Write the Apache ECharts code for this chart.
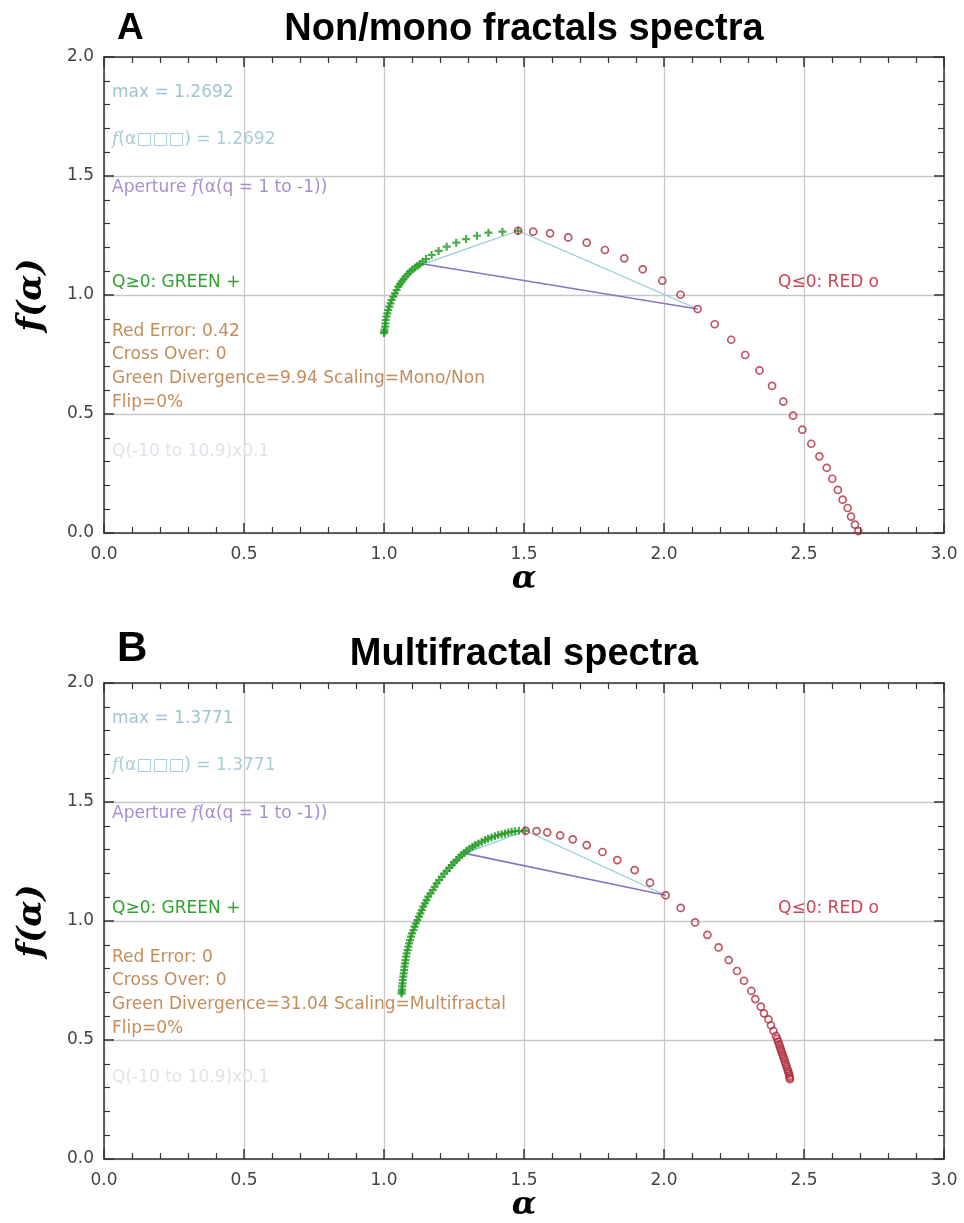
<!DOCTYPE html>
<html>
<head>
<meta charset="utf-8">
<script src="https://cdn.jsdelivr.net/npm/echarts@6/dist/echarts.min.js"></script>
<style>
  html, body { margin: 0; padding: 0; background: #fff; }
  #chart { width: 964px; height: 1223px; }
</style>
</head>
<body>
<div id="chart"></div>
<script>
//****************************** Data *************************************//

// panel A : q >= 0 (green +), from q = 0 (top) down to q = 10.9
var greenA = [
  [1.479, 1.270], [1.423, 1.266], [1.373, 1.262], [1.332, 1.249], [1.293, 1.235],
  [1.258, 1.220], [1.224, 1.203], [1.195, 1.185], [1.170, 1.168], [1.150, 1.151],
  [1.138, 1.140], [1.129, 1.130], [1.120, 1.123], [1.111, 1.116], [1.102, 1.107],
  [1.093, 1.098], [1.085, 1.088], [1.077, 1.077], [1.070, 1.067], [1.063, 1.056],
  [1.057, 1.046], [1.051, 1.035], [1.045, 1.021], [1.039, 1.007], [1.033, 0.993],
  [1.027, 0.979], [1.023, 0.965], [1.019, 0.951], [1.015, 0.937], [1.012, 0.923],
  [1.009, 0.909], [1.006, 0.895], [1.005, 0.881], [1.004, 0.867], [1.002, 0.855],
  [1.001, 0.846], [1.000, 0.840]
];

// panel A : q <= 0 (red o), from q = 0 down to q = -10
var redA = [
  [1.479, 1.270], [1.533, 1.266], [1.593, 1.259], [1.658, 1.242], [1.724, 1.220],
  [1.789, 1.189], [1.858, 1.154], [1.924, 1.108], [1.994, 1.060], [2.059, 1.001],
  [2.120, 0.941], [2.181, 0.877], [2.240, 0.812], [2.290, 0.748], [2.341, 0.683],
  [2.386, 0.618], [2.426, 0.552], [2.461, 0.493], [2.494, 0.434], [2.526, 0.375],
  [2.555, 0.322], [2.581, 0.274], [2.601, 0.228], [2.621, 0.181], [2.638, 0.140],
  [2.656, 0.105], [2.668, 0.069], [2.682, 0.035], [2.694, 0.008]
];

// panel A : max link (q=1 -> max -> q=-1) and aperture
var maxLinkA = [[1.140, 1.130], [1.479, 1.270], [2.120, 0.941]];
var apertureA = [[1.140, 1.130], [2.120, 0.941]];

// panel B : q >= 0 (green +)
var greenB = [
  [1.503, 1.380], [1.482, 1.379], [1.468, 1.377], [1.456, 1.375], [1.444, 1.372],
  [1.432, 1.368], [1.420, 1.365], [1.408, 1.361], [1.396, 1.356], [1.384, 1.351],
  [1.372, 1.346], [1.361, 1.340], [1.349, 1.333], [1.337, 1.326], [1.326, 1.319],
  [1.316, 1.312], [1.305, 1.304], [1.295, 1.295], [1.286, 1.286], [1.277, 1.277],
  [1.268, 1.267], [1.259, 1.256], [1.250, 1.246], [1.242, 1.235], [1.233, 1.223],
  [1.224, 1.211], [1.215, 1.199], [1.206, 1.186], [1.197, 1.172], [1.188, 1.158],
  [1.181, 1.144], [1.174, 1.130], [1.166, 1.116], [1.158, 1.102], [1.152, 1.088],
  [1.146, 1.074], [1.140, 1.060], [1.135, 1.046], [1.130, 1.032], [1.125, 1.018],
  [1.119, 1.004], [1.114, 0.990], [1.109, 0.976], [1.105, 0.962], [1.100, 0.948],
  [1.096, 0.934], [1.093, 0.920], [1.090, 0.906], [1.087, 0.892], [1.084, 0.878],
  [1.081, 0.864], [1.079, 0.850], [1.077, 0.836], [1.075, 0.822], [1.073, 0.808],
  [1.072, 0.794], [1.070, 0.780], [1.069, 0.766], [1.067, 0.752], [1.066, 0.738],
  [1.065, 0.725], [1.064, 0.712], [1.063, 0.703], [1.063, 0.695]
];

// panel B : q <= 0 (red o)
var redB = [
  [1.506, 1.379], [1.545, 1.378], [1.583, 1.372], [1.629, 1.360], [1.674, 1.343],
  [1.724, 1.319], [1.780, 1.290], [1.833, 1.256], [1.895, 1.214], [1.950, 1.161],
  [2.006, 1.108], [2.060, 1.055], [2.111, 0.994], [2.155, 0.942], [2.195, 0.889],
  [2.231, 0.836], [2.261, 0.790], [2.286, 0.749], [2.312, 0.706], [2.326, 0.672],
  [2.346, 0.640], [2.357, 0.612], [2.373, 0.587], [2.382, 0.562], [2.391, 0.538],
  [2.400, 0.517], [2.404, 0.505], [2.408, 0.493], [2.411, 0.482], [2.414, 0.472],
  [2.417, 0.461], [2.420, 0.451], [2.423, 0.440], [2.426, 0.430], [2.429, 0.420],
  [2.432, 0.409], [2.435, 0.398], [2.438, 0.388], [2.441, 0.377], [2.444, 0.367],
  [2.446, 0.358], [2.448, 0.349], [2.449, 0.342], [2.450, 0.335]
];

var maxLinkB = [[1.289, 1.284], [1.506, 1.379], [2.006, 1.108]];
var apertureB = [[1.289, 1.284], [2.006, 1.108]];

var panelLetters = ["A", "B"];
var panelTitles = ["Non/mono fractals spectra", "Multifractal spectra"];
var maxValues = ["1.2692", "1.3771"];
var redErrors = ["0.42", "0"];
var divergences = ["9.94", "31.04"];
var scalings = ["Mono/Non", "Multifractal"];

//****************************** Layout *************************************//

var PLOT_LEFT = 104;
var PLOT_W = 840;
var PLOT_H = 476;
var PLOT_TOPS = [57, 683];

var C_AXIS = "#333";
var C_GRID = "#c8c8c8";
var C_GREEN = "#1e9a1e";
var C_RED = "#b02c3c";
var C_MAXLINK = "#8fcbd8";
var C_APERTURE = "#8a74c2";

var TEXT_FONT = "DejaVu Sans";

//****************************** Axes *************************************//

function makeXAxis(gridIndex, pos) {
  var main = pos === "bottom";
  return {
    type: "value",
    gridIndex: gridIndex,
    position: pos,
    min: 0,
    max: 3,
    interval: 0.5,
    name: main ? "α" : "",
    nameLocation: "middle",
    nameGap: 30,
    nameTextStyle: {
      fontFamily: "DejaVu Serif",
      fontStyle: "italic",
      fontWeight: "bold",
      fontSize: 32,
      color: "#000",
    },
    axisLine: { show: true, onZero: false, lineStyle: { color: C_AXIS, width: 1.5 } },
    axisTick: { show: true, inside: true, length: 10, lineStyle: { color: C_AXIS, width: 1.5 } },
    minorTick: { show: true, splitNumber: 5, length: 6, lineStyle: { color: C_AXIS, width: 1.2 } },
    axisLabel: {
      show: main,
      margin: 13,
      fontFamily: TEXT_FONT,
      fontSize: 17,
      color: "#444",
      formatter: function (v) {
        return v.toFixed(1);
      },
    },
    splitLine: { show: main, lineStyle: { color: C_GRID, width: 1.3 } },
    minorSplitLine: { show: false },
  };
}

function makeYAxis(gridIndex, pos) {
  var main = pos === "left";
  return {
    type: "value",
    gridIndex: gridIndex,
    position: pos,
    min: 0,
    max: 2,
    interval: 0.5,
    name: main ? "f(α)" : "",
    nameLocation: "middle",
    nameRotate: 90,
    nameGap: 55,
    nameTextStyle: {
      fontFamily: "DejaVu Serif",
      fontStyle: "italic",
      fontWeight: "bold",
      fontSize: 34,
      color: "#000",
    },
    axisLine: { show: true, onZero: false, lineStyle: { color: C_AXIS, width: 1.5 } },
    axisTick: { show: true, inside: true, length: 10, lineStyle: { color: C_AXIS, width: 1.5 } },
    minorTick: { show: true, splitNumber: 5, length: 6, lineStyle: { color: C_AXIS, width: 1.2 } },
    axisLabel: {
      show: main,
      margin: 10,
      fontFamily: TEXT_FONT,
      fontSize: 17,
      color: "#444",
      formatter: function (v) {
        return v.toFixed(1);
      },
    },
    splitLine: { show: main, lineStyle: { color: C_GRID, width: 1.3 } },
  };
}

//****************************** Series *************************************//

var PLUS_PATH = "path://M5,0 L5,10 M0,5 L10,5";

function panelSeries(p, green, red, maxLink, aperture) {
  var xi = p * 2;
  var yi = p * 2;
  return [
    {
      type: "line",
      xAxisIndex: xi,
      yAxisIndex: yi,
      data: maxLink,
      showSymbol: false,
      silent: true,
      lineStyle: { color: C_MAXLINK, width: 1.2 },
      z: 2,
    },
    {
      type: "line",
      xAxisIndex: xi,
      yAxisIndex: yi,
      data: aperture,
      showSymbol: false,
      silent: true,
      lineStyle: { color: C_APERTURE, width: 1.6 },
      z: 2,
    },
    {
      type: "scatter",
      xAxisIndex: xi,
      yAxisIndex: yi,
      data: green,
      symbol: PLUS_PATH,
      symbolSize: 8,
      itemStyle: { color: "none", borderColor: C_GREEN, borderWidth: 2.2 },
      z: 3,
    },
    {
      type: "scatter",
      xAxisIndex: xi,
      yAxisIndex: yi,
      data: red,
      symbol: "circle",
      symbolSize: 7,
      itemStyle: { color: "none", borderColor: C_RED, borderWidth: 1.7 },
      z: 3,
    },
  ];
}

//****************************** Text notes *************************************//

function note(x, y, text, color, rich) {
  var style = {
    text: text,
    x: x,
    y: y,
    fill: color,
    fontFamily: TEXT_FONT,
    fontSize: 17,
    align: "left",
    verticalAlign: "middle",
  };
  if (rich) {
    style.rich = rich;
  }
  return { type: "text", silent: true, z: 10, style: style };
}

function panelGraphics(p) {
  var top = PLOT_TOPS[p];
  var off = top - PLOT_TOPS[0];
  var fItalic = {
    i: { fontFamily: "DejaVu Serif", fontStyle: "italic", fontSize: 17 },
  };
  var tx = 112;
  return [
    {
      type: "text",
      silent: true,
      style: {
        text: panelLetters[p],
        x: 117,
        y: p === 0 ? 29 : 649,
        fill: "#000",
        fontFamily: "Liberation Sans",
        fontWeight: "bold",
        fontSize: p === 0 ? 37 : 42,
        align: "left",
        verticalAlign: "middle",
      },
    },
    {
      type: "text",
      silent: true,
      style: {
        text: panelTitles[p],
        x: 524,
        y: p === 0 ? 30 : 655,
        fill: "#000",
        fontFamily: "Liberation Sans",
        fontWeight: "bold",
        fontSize: 38,
        align: "center",
        verticalAlign: "middle",
      },
    },
    note(tx, 93 + off, "max = " + maxValues[p], "#9ec5cf"),
    note(tx, 140 + off, "{i|f}(α□□□) = " + maxValues[p], "#a9cdd6", fItalic),
    note(tx, 188 + off, "Aperture {i|f}(α(q = 1 to -1))", "#a68fcf", fItalic),
    note(tx, 283 + off, "Q≥0: GREEN +", "#2ea22e"),
    note(778, 283 + off, "Q≤0: RED o", "#cc4458"),
    note(tx, 332 + off, "Red Error: " + redErrors[p], "#c48c5a"),
    note(tx, 355 + off, "Cross Over: 0", "#c48c5a"),
    note(tx, 379 + off, "Green Divergence=" + divergences[p] + " Scaling=" + scalings[p], "#c48c5a"),
    note(tx, 403 + off, "Flip=0%", "#c48c5a"),
    note(tx, 452 + off, "Q(-10 to 10.9)x0.1", "#e2e2ea"),
  ];
}

//****************************** Chart *************************************//

function drawChart() {
  var dom = document.getElementById("chart");
  var myChart = echarts.init(dom, null, { renderer: "canvas" });

  var grids = PLOT_TOPS.map(function (t) {
    return {
      left: PLOT_LEFT,
      top: t,
      width: PLOT_W,
      height: PLOT_H,
      containLabel: false,
      outerBoundsMode: "none",
    };
  });

  var option = {
    animation: false,
    backgroundColor: "#fff",
    grid: grids,
    xAxis: [makeXAxis(0, "bottom"), makeXAxis(0, "top"), makeXAxis(1, "bottom"), makeXAxis(1, "top")],
    yAxis: [makeYAxis(0, "left"), makeYAxis(0, "right"), makeYAxis(1, "left"), makeYAxis(1, "right")],
    series: panelSeries(0, greenA, redA, maxLinkA, apertureA).concat(
      panelSeries(1, greenB, redB, maxLinkB, apertureB)
    ),
    graphic: panelGraphics(0).concat(panelGraphics(1)),
  };

  myChart.setOption(option);
  window.addEventListener("resize", myChart.resize);
}

drawChart();
</script>
</body>
</html>
